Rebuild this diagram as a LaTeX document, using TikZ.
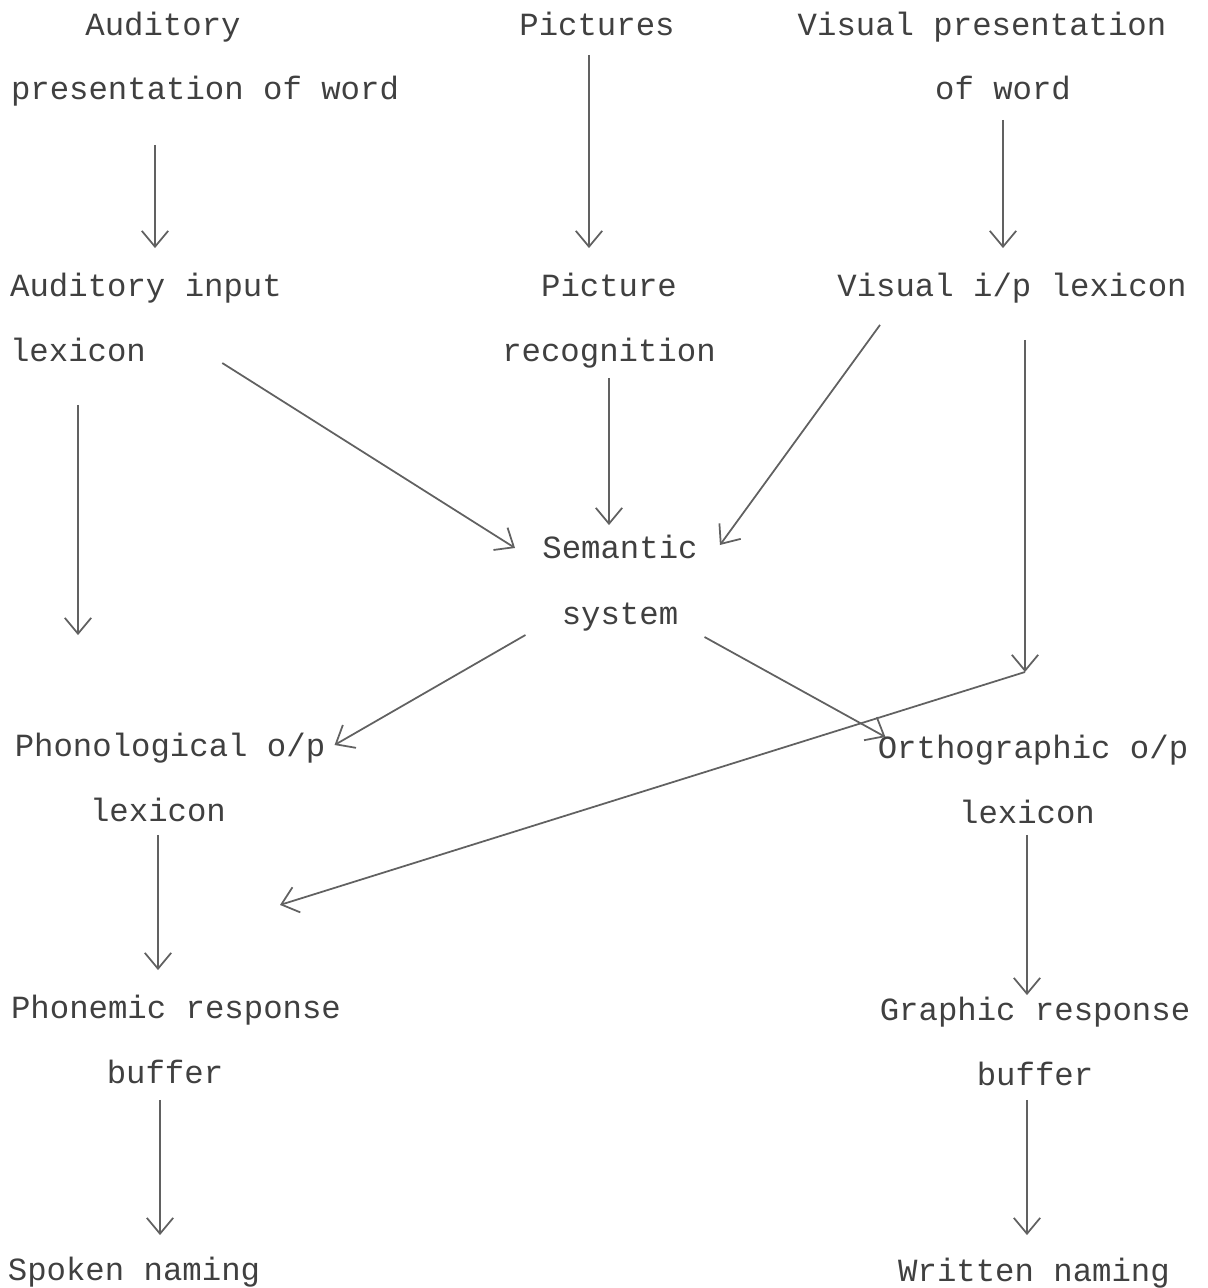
\documentclass[tikz,border=0pt]{standalone}
\usepackage{fontspec}
\newfontfamily\typefont{Liberation Mono}
\usepackage{tikz}
\usetikzlibrary{calc, arrows.meta}

\tikzset{
  lbl/.style={font=\typefont\fontsize{18.4}{37}\selectfont, text=black!75,
    inner sep=0pt, text height=12.9pt, text depth=3.7pt},
  arr/.style={draw=black!62, line width=1pt,
    -{Straight Barb[length=9pt, width=15pt, line width=1pt]}}
}

\begin{document}
\begin{tikzpicture}[x=0.02cm, y=-0.02cm]
        \useasboundingbox (0,0) rectangle (1207,1288);

        % Inputs
        \node[lbl] (audA) at (163,27) {Auditory};
        \node[lbl] (audB) at (205,91) {presentation of word};
        \node[lbl] (pic) at (597,27) {Pictures};
        \node[lbl] (visA) at (982,27) {Visual presentation};
        \node[lbl] (visB) at (1003,91) {of word};

        % Input lexicons
        \node[lbl] (ailA) at (146,288) {Auditory input};
        \node[lbl] (ailB) at (78,353) {lexicon};
        \node[lbl] (prA) at (609,288) {Picture};
        \node[lbl] (prB) at (609,353) {recognition};
        \node[lbl] (vil) at (1012,288) {Visual i/p lexicon};

        % Semantics
        \node[lbl] (semA) at (620,550) {Semantic};
        \node[lbl] (semB) at (620,616) {system};

        % Output lexicons
        \node[lbl] (polA) at (170,748) {Phonological o/p};
        \node[lbl] (polB) at (158,813) {lexicon};
        \node[lbl] (oolA) at (1033,750) {Orthographic o/p};
        \node[lbl] (oolB) at (1027,815) {lexicon};

        % Buffers
        \node[lbl] (prbA) at (176,1010) {Phonemic response};
        \node[lbl] (prbB) at (165,1075) {buffer};
        \node[lbl] (grbA) at (1035,1012) {Graphic response};
        \node[lbl] (grbB) at (1035,1077) {buffer};

        % Naming
        \node[lbl] (spk) at (134,1272) {Spoken naming};
        \node[lbl] (wrt) at (1034,1273) {Written naming};

        \coordinate (jn) at (1025,672);

        % Arrows down the page
        \draw[arr] ($(audB.south)+(-50,39)$) -- ($(ailA.north)+(9,-25)$);
        \draw[arr] ($(pic.south)+(-8,13)$) -- ($(prA.north)+(-20,-25)$);
        \draw[arr] ($(visB.south)+(0,14)$) -- ($(vil.north)+(-9,-25)$);
        \draw[arr] ($(ailB.south)+(0,37)$) -- ($(polA.north)+(-92,-98)$);
        \draw[arr] ($(ailB.east)+(76,10)$) -- ($(semA.west)+(-27,-2)$);
        \draw[arr] ($(prB.south)+(0,10)$) -- ($(semA.north)+(-11,-10)$);
        \draw[arr] ($(vil.south)+(-132,22)$) -- ($(semA.east)+(22,-5)$);
        \draw[arr] ($(vil.south)+(13,37)$) -- (jn);
        \draw[arr] ($(semB.west)+(-36,19)$) -- ($(polA.east)+(9,-3)$);
        \draw[arr] ($(semB.east)+(26,21)$) -- ($(oolA.west)+(8,-13)$);
        \draw[arr] (jn) -- ($(polB.south)+(122,77)$);
        \draw[arr] ($(polB.south)+(0,7)$) -- ($(prbA.north)+(-18,-25)$);
        \draw[arr] ($(oolB.south)+(0,5)$) -- ($(grbA.north)+(-8,-2)$);
        \draw[arr] ($(prbB.south)+(-5,10)$) -- ($(spk.north)+(26,-22)$);
        \draw[arr] ($(grbB.south)+(-8,8)$) -- ($(wrt.north)+(-7,-23)$);
      \end{tikzpicture}
\end{document}
